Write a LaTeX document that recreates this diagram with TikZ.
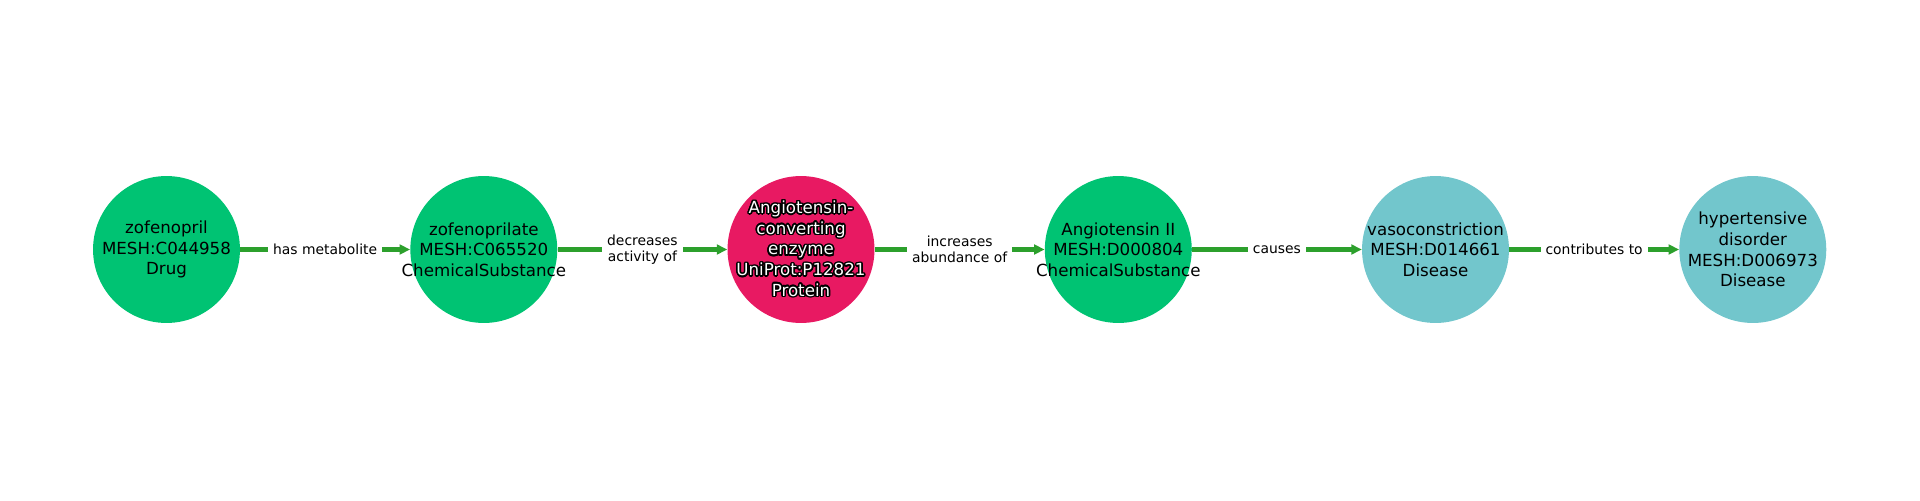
\documentclass[tikz,border=0pt]{standalone}
\usepackage{fontspec}
\setmainfont{DejaVu Sans}
\usepackage{contour}
\contourlength{1.1pt}
\usetikzlibrary{arrows.meta}

\definecolor{drugcol}{RGB}{0,195,115}
\definecolor{protcol}{RGB}{232,25,98}
\definecolor{discol}{RGB}{114,198,204}
\definecolor{edgecol}{RGB}{44,160,44}

\begin{document}
\begin{tikzpicture}[x=0.72pt,y=0.72pt,
  ent/.style={circle,minimum size=105.8pt,inner sep=0pt},
  ntext/.style={align=center,font=\fontsize{12}{14.9}\selectfont},
  edge/.style={edgecol,line width=2.9pt,-{Triangle[length=7.5pt,width=7pt]}},
  elab/.style={fill=white,text=black,align=center,inner xsep=3.5pt,inner ysep=1pt,font=\fontsize{10}{11.7}\selectfont}]
\useasboundingbox (0,0) rectangle (1920,500);

\node[ent,fill=drugcol,label={[ntext]center:{zofenopril\\MESH:C044958\\Drug}}](v1) at (166.5,250.5) {};

\node[ent,fill=drugcol,label={[ntext]center:{zofenoprilate\\MESH:C065520\\ChemicalSubstance}}](v2) at (483.8,250.5) {};

\node[ent,fill=protcol,label={[ntext,text=white]center:{\contour{black}{Angiotensin-}\\\contour{black}{converting}\\\contour{black}{enzyme}\\\contour{black}{UniProt:P12821}\\\contour{black}{Protein}}}](v3) at (801,250.5) {};

\node[ent,fill=drugcol,label={[ntext]center:{Angiotensin II\\MESH:D000804\\ChemicalSubstance}}](v4) at (1118.3,250.5) {};

\node[ent,fill=discol,label={[ntext]center:{vasoconstriction\\MESH:D014661\\Disease}}](v5) at (1435.5,250.5) {};

\node[ent,fill=discol,label={[ntext]center:{hypertensive\\disorder\\MESH:D006973\\Disease}}](v6) at (1752.8,250.5) {};

\foreach \from/\to/\rel in {v1/v2/{has metabolite}, v2/v3/{decreases\\activity of}, v3/v4/{increases\\abundance of}, v4/v5/{causes}, v5/v6/{contributes to}}
    \draw[edge] (\from) -- node[elab]{\rel} (\to);

\end{tikzpicture}
\end{document}
